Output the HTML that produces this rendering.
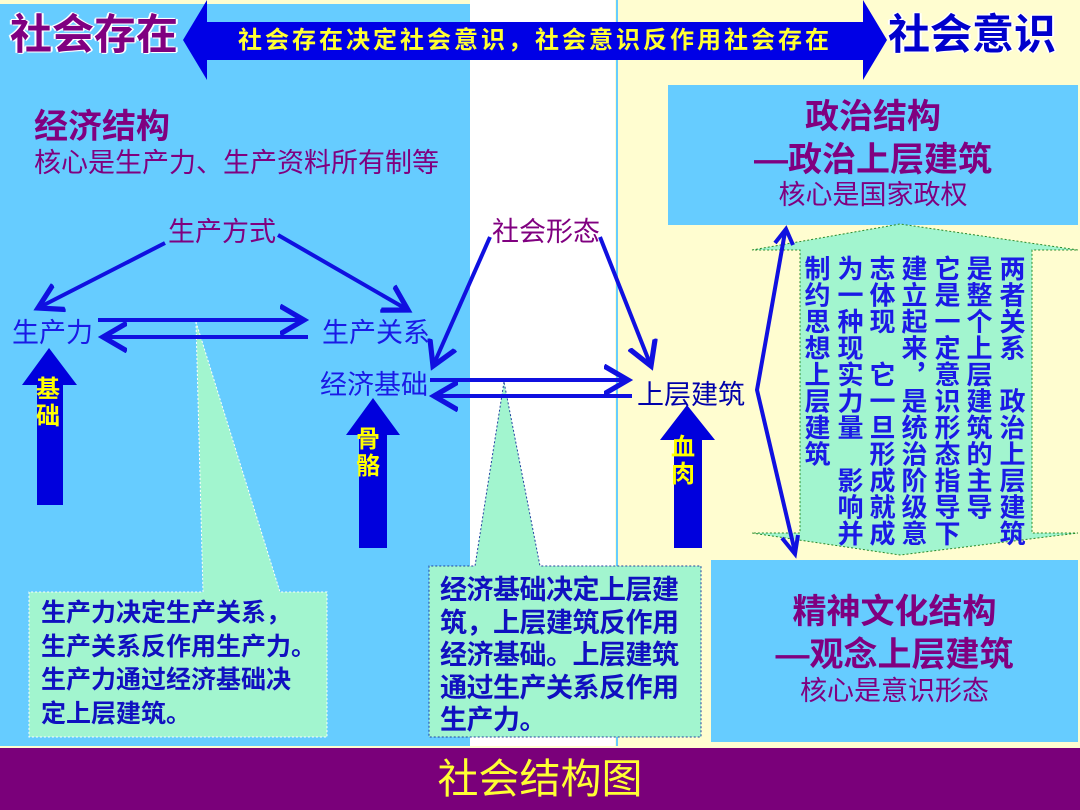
<!DOCTYPE html>
<html><head><meta charset="utf-8"><style>
*{margin:0;padding:0}
body{width:1080px;height:810px;position:relative;overflow:hidden;background:#fffdd0;font-family:"Liberation Sans","Noto Sans CJK SC",sans-serif}
.t{position:absolute;white-space:nowrap;line-height:1}
.p{color:#800080}
.b{color:#1a1ae6}
.col{position:absolute;top:255px;writing-mode:vertical-rl;font-size:26px;font-weight:bold;color:#1a1ae6;line-height:30px;width:30px;letter-spacing:0.5px}
</style></head><body>
<svg width="1080" height="810" style="position:absolute;left:0;top:0">
<defs>
<marker id="ah" markerWidth="8" markerHeight="8" refX="6" refY="4" orient="auto" markerUnits="strokeWidth"><path d="M0,0.5 L6,4 L0,7.5" fill="none" stroke="#1010e0" stroke-width="1.3"/></marker>
</defs>
<rect x="0" y="4" width="470" height="742" fill="#66ccff"/>
<rect x="470" y="0" width="145" height="746" fill="#ffffff"/>
<rect x="615" y="0" width="465" height="746" fill="#fffdd0"/>
<line x1="617" y1="0" x2="617" y2="746" stroke="#66ccff" stroke-width="2"/>
<rect x="668" y="85" width="410" height="140" fill="#66ccff"/>
<rect x="711" y="560" width="367" height="182" fill="#66ccff"/>
<rect x="0" y="748" width="1080" height="62" fill="#7a007a"/>
<polygon points="183,40 207,0 207,22 863,22 863,0 887,40 863,80 863,60 207,60 207,80" fill="#0000e6"/>
<polygon points="752,250 900,224 1078,250 1032,250 1032,533 1078,533 900,555 752,533 800,533 800,250" fill="#a2f5cf" stroke="#2a8a2a" stroke-width="1" stroke-dasharray="2,2"/>
<polygon points="196,322 203,592 29,592 29,737 327,737 327,592 280,592" fill="#a2f5cf" stroke="#ffffff" stroke-width="1" stroke-dasharray="2,2"/>
<polygon points="504,382 475,566 429,566 429,737 701,737 701,566 540,566" fill="#a2f5cf" stroke="#2040a0" stroke-width="1" stroke-dasharray="2,2"/>
<g stroke="#1010e0" stroke-width="4" fill="none" marker-end="url(#ah)">
<line x1="165" y1="243" x2="38" y2="308"/>
<line x1="278" y1="235" x2="408" y2="310"/>
<line x1="98" y1="320" x2="304" y2="320"/>
<line x1="308" y1="337" x2="103" y2="337"/>
<line x1="490" y1="237" x2="433" y2="366"/>
<line x1="600" y1="237" x2="651" y2="366"/>
<line x1="430" y1="380" x2="628" y2="380"/>
<line x1="632" y1="396" x2="434" y2="396"/>
</g>
<g stroke="#1010e0" stroke-width="4" fill="none">
<polyline points="785,232 757,390 795,552"/>
<polyline points="775,243 786,229 793,245"/>
<polyline points="782,538 795,554 798,535"/>
</g>
<polygon points="49,348 77,385 63,385 63,505 37,505 37,385 22,385" fill="#0000dd"/>
<polygon points="373,398 400,435 387,435 387,548 359,548 359,435 346,435" fill="#0000dd"/>
<polygon points="687,405 715,440 702,440 702,548 674,548 674,440 660,440" fill="#0000dd"/>
</svg>

<div class="t" style="left:10px;top:14px;font-size:42px;font-weight:bold;color:#800080;text-shadow:0 0 2px #fff,1px 1px 0 #fff,-1px -1px 0 #fff,2px 0 0 #fff,-2px 0 0 #fff">社会存在</div>
<div class="t" style="left:888px;top:14px;font-size:42px;font-weight:bold;color:#0000cc;text-shadow:0 0 2px #fff,1px 1px 0 #fff,-1px -1px 0 #fff,2px 0 0 #fff,-2px 0 0 #fff">社会意识</div>
<div class="t" style="left:238px;top:29px;font-size:24px;font-weight:bold;color:#ffff33;letter-spacing:3px">社会存在决定社会意识，社会意识反作用社会存在</div>

<div class="t p" style="left:34px;top:110px;font-size:34px;font-weight:bold">经济结构</div>
<div class="t p" style="left:34px;top:150px;font-size:27px">核心是生产力、生产资料所有制等</div>

<div class="t p" style="left:673px;top:100px;width:400px;text-align:center;font-size:34px;font-weight:bold">政治结构</div>
<div class="t p" style="left:673px;top:143px;width:400px;text-align:center;font-size:34px;font-weight:bold">—政治上层建筑</div>
<div class="t p" style="left:673px;top:182px;width:400px;text-align:center;font-size:27px">核心是国家政权</div>

<div class="t p" style="left:168px;top:219px;font-size:27px">生产方式</div>
<div class="t p" style="left:492px;top:219px;font-size:27px">社会形态</div>
<div class="t b" style="left:12px;top:320px;font-size:27px">生产力</div>
<div class="t b" style="left:322px;top:320px;font-size:27px">生产关系</div>
<div class="t b" style="left:320px;top:372px;font-size:27px">经济基础</div>
<div class="t" style="left:637px;top:382px;font-size:27px;color:#0000aa">上层建筑</div>

<div class="t" style="left:36px;top:376px;font-size:24px;font-weight:bold;color:#ffff00;line-height:27px">基<br>础</div>
<div class="t" style="left:356px;top:426px;font-size:24px;font-weight:bold;color:#ffff00;line-height:27px">骨<br>骼</div>
<div class="t" style="left:671px;top:434px;font-size:24px;font-weight:bold;color:#ffff00;line-height:27px">血<br>肉</div>

<div class="col" style="left:996px">两者关系　政治上层建筑</div>
<div class="col" style="left:963px">是整个上层建筑的主导</div>
<div class="col" style="left:931px">它是一定意识形态指导下</div>
<div class="col" style="left:898px">建立起来，是统治阶级意</div>
<div class="col" style="left:866px">志体现　它一旦形成就成</div>
<div class="col" style="left:834px">为一种现实力量　影响并</div>
<div class="col" style="left:801px">制约思想上层建筑</div>

<div class="t" style="left:41px;top:597px;font-size:25px;font-weight:bold;color:#1010c0;line-height:33.5px">生产力决定生产关系，<br>生产关系反作用生产力。<br>生产力通过经济基础决<br>定上层建筑。</div>
<div class="t" style="left:440px;top:574px;font-size:27px;font-weight:bold;color:#1010c0;line-height:32.5px;letter-spacing:-0.5px">经济基础决定上层建<br>筑，上层建筑反作用<br>经济基础。上层建筑<br>通过生产关系反作用<br>生产力。</div>

<div class="t p" style="left:711px;top:595px;width:367px;text-align:center;font-size:34px;font-weight:bold">精神文化结构</div>
<div class="t p" style="left:711px;top:638px;width:367px;text-align:center;font-size:34px;font-weight:bold">—观念上层建筑</div>
<div class="t p" style="left:711px;top:678px;width:367px;text-align:center;font-size:27px">核心是意识形态</div>

<div class="t" style="left:0;top:759px;width:1080px;text-align:center;font-size:41px;color:#ffff33">社会结构图</div>
</body></html>
